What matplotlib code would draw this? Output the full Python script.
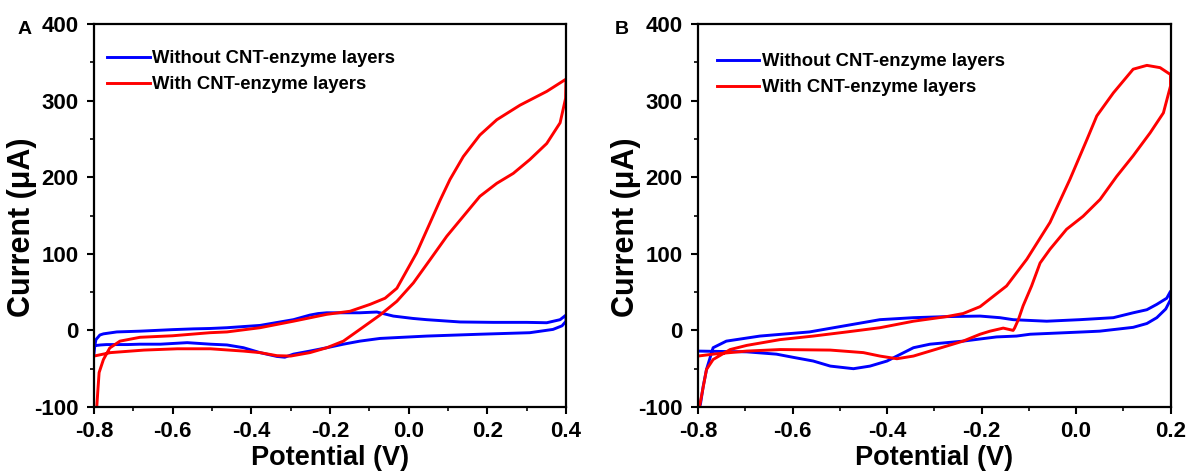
import matplotlib
matplotlib.use('Agg')
import matplotlib.pyplot as plt
from matplotlib.ticker import MultipleLocator, FormatStrFormatter

plt.rcParams['font.family'] = ['Liberation Sans', 'DejaVu Sans']
plt.rcParams['font.weight'] = 'bold'
plt.rcParams['axes.unicode_minus'] = False

# Panel A: potential window -0.8 .. 0.4 V
a_blue_v = [-0.800, -0.798, -0.795, -0.785, -0.776, -0.742, -0.683, -0.600, -0.547, -0.505,
            -0.462, -0.378, -0.293, -0.251, -0.230, -0.208, -0.160, -0.124, -0.081, -0.039,
            0.011, 0.046, 0.131, 0.215, 0.300, 0.351, 0.385, 0.400,
            0.400, 0.390, 0.367, 0.308, 0.181, 0.046, -0.039, -0.073, -0.124, -0.166,
            -0.208, -0.251, -0.293, -0.315, -0.335, -0.378, -0.420, -0.462, -0.504, -0.563,
            -0.631, -0.683, -0.715, -0.768, -0.783, -0.800]
a_blue_i = [-30, -20, -12, -6, -4.5, -2, -1, 1, 2, 2.5,
            3.5, 6.5, 14, 20, 22, 23, 23, 23, 24, 18.7,
            15.6, 14, 11, 10.5, 10.5, 10, 14, 20,
            12, 6, 1.3, -3, -5, -7.4, -9.6, -10.5, -14, -18,
            -22.6, -27, -31, -35, -34, -29, -22.6, -19, -18, -16,
            -18, -18, -18.5, -18.5, -19, -20]

a_red_v = [-0.793, -0.790, -0.787, -0.776, -0.760, -0.734, -0.683, -0.600, -0.505, -0.462,
           -0.378, -0.293, -0.208, -0.149, -0.098, -0.060, -0.030, -0.005, 0.020, 0.054,
           0.080, 0.105, 0.139, 0.181, 0.224, 0.283, 0.351, 0.400,
           0.399, 0.385, 0.351, 0.308, 0.266, 0.224, 0.181, 0.139, 0.097, 0.054,
           0.012, -0.030, -0.073, -0.124, -0.166, -0.208, -0.251, -0.300, -0.335, -0.378,
           -0.420, -0.504, -0.588, -0.673, -0.758, -0.800]
a_red_i = [-100, -77, -55, -38, -23, -14, -9, -7, -3, -2,
           3.5, 12, 21, 25, 34, 42, 55, 78, 101, 140,
           170, 197, 227, 255, 275, 294, 312, 328,
           303, 271, 244, 223, 205, 192, 175, 149, 123, 92,
           62, 38, 20, 1.3, -14, -22.6, -29, -33.5, -33, -29,
           -27, -24, -24, -25.7, -29, -33.5]

# Panel B: potential window -0.8 .. 0.2 V
b_blue_v = [-0.799, -0.795, -0.789, -0.782, -0.768, -0.740, -0.669, -0.564, -0.485, -0.415,
            -0.344, -0.274, -0.203, -0.161, -0.133, -0.062, 0.008, 0.079, 0.121, 0.150,
            0.171, 0.192, 0.200,
            0.200, 0.190, 0.171, 0.150, 0.121, 0.050, 0.015, -0.097, -0.126, -0.168,
            -0.239, -0.309, -0.344, -0.400, -0.436, -0.471, -0.520, -0.556, -0.600, -0.634,
            -0.697, -0.750, -0.800]
b_blue_i = [-100, -97, -73, -51, -22.6, -14, -7.4, -2, 6.5, 14,
            16.6, 18, 18.7, 16.6, 14, 12, 14, 16.6, 23, 27,
            34, 42, 51,
            40, 28, 16.6, 9, 4, -1, -2, -5, -7.4, -8.5,
            -14, -18, -22.6, -40, -46.6, -50, -46.6, -40, -35, -31,
            -28, -27.5, -27]

b_red_v = [-0.797, -0.796, -0.782, -0.768, -0.732, -0.697, -0.626, -0.556, -0.485, -0.415,
           -0.344, -0.274, -0.239, -0.203, -0.147, -0.104, -0.055, -0.013, 0.023, 0.044,
           0.079, 0.121, 0.150, 0.178, 0.200,
           0.200, 0.185, 0.157, 0.121, 0.086, 0.051, 0.015, -0.020, -0.055, -0.076,
           -0.094, -0.112, -0.122, -0.130, -0.133, -0.147, -0.154, -0.182, -0.203, -0.239,
           -0.309, -0.344, -0.379, -0.415, -0.450, -0.520, -0.626, -0.697, -0.768, -0.800]
b_red_i = [-100, -97, -51, -38, -25, -19.6, -12, -7.4, -2, 3.5,
           12, 18, 22, 31, 58, 93, 141, 197, 249, 280,
           310, 341, 346, 343, 334,
           319, 284, 258, 228, 201, 171, 149, 132, 106, 88,
           58, 32, 14, 3, 0, 2, 3, -1, -5, -14,
           -27, -33.5, -37, -33.5, -29, -25.7, -25, -27, -31, -33.5]

labels = ['Without CNT-enzyme layers', 'With CNT-enzyme layers']

fig = plt.figure(figsize=(11.89, 4.72), dpi=100)
ax1 = fig.add_axes([94 / 1189, 1 - 407 / 472, 472 / 1189, 383 / 472])
ax2 = fig.add_axes([698 / 1189, 1 - 407 / 472, 472.5 / 1189, 383 / 472])

panels = [
    (ax1, a_blue_v, a_blue_i, a_red_v, a_red_i, (-0.8, 0.4), 'A', 18 / 1189, (0.028, 0.932)),
    (ax2, b_blue_v, b_blue_i, b_red_v, b_red_i, (-0.8, 0.2), 'B', 615 / 1189, (0.040, 0.924)),
]

for ax, bv, bi, rv, ri, xlim, tag, tag_x, leg_pos in panels:
    ax.plot(bv, bi, color='#0000ff', lw=2.1, label=labels[0])
    ax.plot(rv, ri, color='#ff0000', lw=2.1, label=labels[1])
    ax.set_xlim(*xlim)
    ax.set_ylim(-100, 400)
    ax.xaxis.set_major_locator(MultipleLocator(0.2))
    ax.xaxis.set_minor_locator(MultipleLocator(0.1))
    ax.yaxis.set_major_locator(MultipleLocator(100))
    ax.yaxis.set_minor_locator(MultipleLocator(50))
    ax.xaxis.set_major_formatter(FormatStrFormatter('%.1f'))
    ax.tick_params(which='major', direction='out', length=5, width=1.5, labelsize=16, pad=5)
    ax.tick_params(axis='y', which='major', pad=6)
    ax.tick_params(which='minor', direction='out', length=3, width=1.2)
    for sp in ax.spines.values():
        sp.set_linewidth(1.6)
    ax.set_xlabel('Potential (V)', fontsize=19.5, fontweight='bold')
    ax.set_ylabel('Current (\u03bcA)', fontsize=22, fontweight='bold')
    ax.xaxis.set_label_coords(0.5, -0.100)
    ax.yaxis.set_label_coords(-0.12, 0.47)
    ax.legend(loc='upper left', bbox_to_anchor=leg_pos, frameon=False,
              handlelength=2.3, handletextpad=0.15, borderpad=0, borderaxespad=0,
              labelspacing=0.5, prop={'weight': 'bold', 'size': 13.3})
    fig.text(tag_x, 1 - 30 / 472, tag, fontsize=14, fontweight='bold', va='center')

fig.savefig('out.png', dpi=100)
